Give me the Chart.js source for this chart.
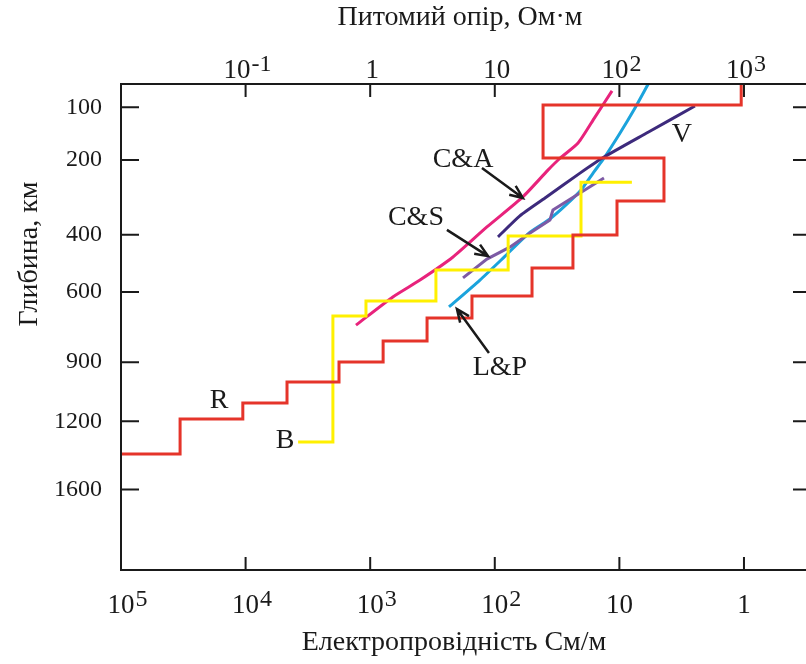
<!DOCTYPE html>
<html>
<head>
<meta charset="utf-8">
<script src="https://cdn.jsdelivr.net/npm/chart.js@4.4.0/dist/chart.umd.min.js"></script>
<style>
  html, body { margin: 0; padding: 0; background: #fff; overflow: hidden; }
  #wrap { width: 820px; height: 664px; }
</style>
</head>
<body>
<div id="wrap"><canvas id="chart" width="820" height="664"></canvas></div>
<script>
// resistivity (Ohm·m) vs depth (km)
const rRho = [950, 24.4, 228, 95.7, 42.4, 19.9, 6.56, 2.86, 1.27, 0.562, 0.215, 0.095, 0.0298, 0.01];
const rDepth = [67, 96.5, 195.5, 301, 401, 511, 615, 704, 803, 899, 996, 1102, 1188, 1384];

const bRho = [126, 49.2, 12.8, 3.37, 0.925, 0.502, 0.264];
const bDepth = [252, 252, 404, 518, 635, 696, 1315];

const caRho = [87.3, 63.7, 46.6, 33.4, 26.7, 16.8, 8.65, 4.62, 2.51, 1.52, 0.769];
const caDepth = [76, 116, 164, 196, 223, 290, 376, 473, 555, 619, 734];

const lpRho = [170, 131, 101, 75.2, 62.5, 49.2, 37.3, 27.7, 19.2, 12.1, 7.6, 4.29];
const lpDepth = [67, 104, 145, 196, 227, 272, 312, 352, 392, 470, 555, 659];

const vRho = [404, 170, 72.5, 48.3, 25.3, 15.9, 10.6];
const vDepth = [98, 143, 196, 230, 293, 343, 407];

const csRho = [75.2, 48.3, 29.3, 27.7, 19.2, 13.2, 8.65, 5.56];
const csDepth = [242, 280, 326, 355, 395, 440, 480, 547];

const depthTicks = [100, 200, 400, 600, 900, 1200, 1600];
const rhoTicks = [0.1, 1, 10, 100, 1000];
const rhoTickLabels = [["10", "-1"], ["1", ""], ["10", ""], ["10", "2"], ["10", "3"]];
const sigmaTicks = [1e5, 1e4, 1e3, 100, 10, 1];
const sigmaTickLabels = [["10", "5"], ["10", "4"], ["10", "3"], ["10", "2"], ["10", ""], ["1", ""]];

const curveNames = ["R", "B", "V", "C&A", "C&S", "L&P"];
const nameRho = [0.0612, 0.207, 318, 5.56, 2.33, 11.0];
const nameDepth = [1092, 1309, 148, 200, 349, 928];

const arrowFrom = [[7.89, 218], [4.13, 385], [8.98, 857]];
const arrowTo = [[16.8, 293], [8.82, 470], [4.97, 667]];

const RHO_MIN = 0.01, RHO_MAX = 3451;
const DEPTH_MIN = 66.8, DEPTH_MAX = 2144.5;
const SERIF = '"Liberation Serif", "Times New Roman", serif';
const INK = "#1a1a1a";

// depth axis is drawn on a square-root scale
class SqrtScale extends Chart.LinearScale {
  getPixelForValue(value) {
    const lo = Math.sqrt(this.min), hi = Math.sqrt(this.max);
    return this.getPixelForDecimal((Math.sqrt(value) - lo) / (hi - lo));
  }
  getValueForPixel(pixel) {
    const lo = Math.sqrt(this.min), hi = Math.sqrt(this.max);
    const s = lo + this.getDecimalForPixel(pixel) * (hi - lo);
    return s * s;
  }
}
SqrtScale.id = "sqrt";
SqrtScale.defaults = Chart.LinearScale.defaults;
Chart.register(SqrtScale);

const pts = (xs, ys) => xs.map((x, i) => ({ x, y: ys[i] }));

function lineSet(label, xs, ys, color, extra) {
  return Object.assign({
    label,
    data: pts(xs, ys),
    borderColor: color,
    borderWidth: 3,
    pointRadius: 0,
    fill: false,
    tension: 0.2,
    borderJoinStyle: "miter"
  }, extra || {});
}

// "10" + exponent; anchor says where the tick sits: whole label or base only
function drawPow(ctx, base, exp, tickX, y, centerBase) {
  ctx.font = `27px ${SERIF}`;
  const wb = ctx.measureText(base).width;
  ctx.font = `24px ${SERIF}`;
  const we = exp ? ctx.measureText(exp).width + 1 : 0;
  const x = centerBase ? tickX - wb / 2 : tickX - (wb + we) / 2;
  ctx.font = `27px ${SERIF}`;
  ctx.fillText(base, x, y);
  if (exp) {
    ctx.font = `24px ${SERIF}`;
    ctx.fillText(exp, x + wb + 1, y - 7);
  }
}

function drawArrow(ctx, x1, y1, x2, y2) {
  const ang = Math.atan2(y2 - y1, x2 - x1);
  const head = 14, spread = 0.4;
  ctx.beginPath();
  ctx.moveTo(x1, y1);
  ctx.lineTo(x2, y2);
  ctx.moveTo(x2 - head * Math.cos(ang - spread), y2 - head * Math.sin(ang - spread));
  ctx.lineTo(x2, y2);
  ctx.lineTo(x2 - head * Math.cos(ang + spread), y2 - head * Math.sin(ang + spread));
  ctx.stroke();
}

const overlay = {
  id: "overlay",
  afterDraw(chart) {
    const { ctx, chartArea: a, scales } = chart;
    const sx = scales.x, sx2 = scales.x2, sy = scales.y;
    ctx.save();
    ctx.strokeStyle = INK;
    ctx.fillStyle = INK;
    ctx.lineWidth = 2;
    ctx.strokeRect(a.left, a.top, a.right - a.left, a.bottom - a.top);

    ctx.beginPath();
    sx.ticks.forEach(t => {
      const px = sx.getPixelForValue(t.value);
      ctx.moveTo(px, a.top);
      ctx.lineTo(px, a.top + 13);
    });
    sx2.ticks.forEach(t => {
      const px = sx2.getPixelForValue(t.value);
      ctx.moveTo(px, a.bottom);
      ctx.lineTo(px, a.bottom - 13);
    });
    sy.ticks.forEach(t => {
      const py = sy.getPixelForValue(t.value);
      ctx.moveTo(a.left, py);
      ctx.lineTo(a.left + 18, py);
      ctx.moveTo(a.right, py);
      ctx.lineTo(a.right - 18, py);
    });
    ctx.stroke();

    ctx.textAlign = "left";
    ctx.textBaseline = "alphabetic";
    rhoTicks.forEach((v, i) => {
      drawPow(ctx, rhoTickLabels[i][0], rhoTickLabels[i][1], sx.getPixelForValue(v) + 2, 78, false);
    });
    sigmaTicks.forEach((v, i) => {
      drawPow(ctx, sigmaTickLabels[i][0], sigmaTickLabels[i][1], sx2.getPixelForValue(v), 613, true);
    });

    // axis titles
    ctx.textAlign = "center";
    ctx.textBaseline = "middle";
    ctx.font = `28px ${SERIF}`;
    ctx.fillText("Питомий опір, Ом·м", 460, 18);
    ctx.fillText("Електропровідність См/м", 454, 643);
    ctx.save();
    ctx.translate(30, 254);
    ctx.rotate(-Math.PI / 2);
    ctx.fillText("Глибина, км", 0, 0);
    ctx.restore();

    // curve names and pointers
    ctx.font = `28px ${SERIF}`;
    curveNames.forEach((name, i) => {
      ctx.fillText(name, sx.getPixelForValue(nameRho[i]), sy.getPixelForValue(nameDepth[i]));
    });
    ctx.lineWidth = 2.5;
    arrowFrom.forEach((f, i) => {
      const t = arrowTo[i];
      drawArrow(ctx,
        sx.getPixelForValue(f[0]), sy.getPixelForValue(f[1]),
        sx.getPixelForValue(t[0]), sy.getPixelForValue(t[1]));
    });
    ctx.restore();
  }
};

new Chart(document.getElementById("chart"), {
  type: "line",
  data: {
    datasets: [
      lineSet("R", rRho, rDepth, "#e5342a", { stepped: "after", tension: 0 }),
      lineSet("B", bRho, bDepth, "#fff000", { stepped: "after", tension: 0 }),
      lineSet("C&A", caRho, caDepth, "#e8237c"),
      lineSet("V", vRho, vDepth, "#3d2a7c"),
      lineSet("C&S", csRho, csDepth, "#7d5aa5", { tension: 0 }),
      lineSet("L&P", lpRho, lpDepth, "#1ba3dc")
    ]
  },
  options: {
    responsive: false,
    animation: false,
    layout: { padding: { left: 0, top: 0, right: 9, bottom: 0 } },
    plugins: { legend: { display: false }, tooltip: { enabled: false } },
    scales: {
      x: {
        type: "logarithmic",
        position: "top",
        min: RHO_MIN,
        max: RHO_MAX,
        bounds: "data",
        afterBuildTicks: s => { s.ticks = rhoTicks.map(v => ({ value: v })); },
        afterFit: s => { s.height = 84; },
        ticks: { display: false },
        grid: { display: false, drawTicks: false },
        border: { display: false }
      },
      x2: {
        type: "logarithmic",
        position: "bottom",
        reverse: true,
        min: 1000 / RHO_MAX,
        max: 1000 / RHO_MIN,
        bounds: "data",
        afterBuildTicks: s => { s.ticks = sigmaTicks.map(v => ({ value: v })); },
        afterFit: s => { s.height = 94; },
        ticks: { display: false },
        grid: { display: false, drawTicks: false },
        border: { display: false }
      },
      y: {
        type: "sqrt",
        reverse: true,
        min: DEPTH_MIN,
        max: DEPTH_MAX,
        bounds: "data",
        afterBuildTicks: s => { s.ticks = depthTicks.map(v => ({ value: v })); },
        afterFit: s => { s.width = 121; },
        ticks: {
          callback: v => String(v),
          font: { family: SERIF, size: 24 },
          color: INK,
          padding: 19
        },
        grid: { display: false, drawTicks: false },
        border: { display: false }
      }
    }
  },
  plugins: [overlay]
});
</script>
</body>
</html>
